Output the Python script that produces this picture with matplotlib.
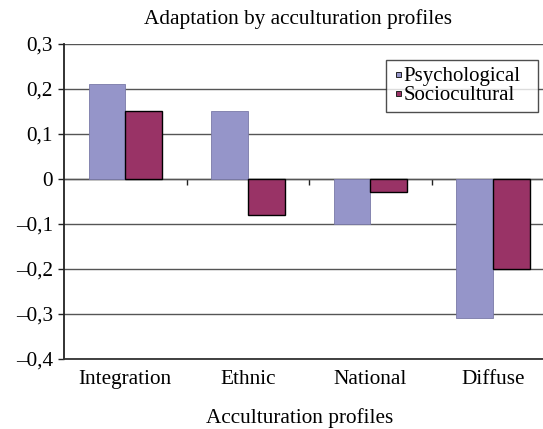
import numpy as np
import matplotlib.pyplot as plt
from matplotlib.lines import Line2D
from matplotlib.ticker import FixedLocator, FixedFormatter

# data
categories = ['Integration', 'Ethnic', 'National', 'Diffuse']
psychological = [0.21, 0.15, -0.10, -0.31]
sociocultural = [0.15, -0.08, -0.03, -0.20]
series_names = ['Psychological', 'Sociocultural']
y_ticks = [0.3, 0.2, 0.1, 0.0, -0.1, -0.2, -0.3, -0.4]
y_tick_labels = ['0,3', '0,2', '0,1', '0', '\u20130,1', '\u20130,2', '\u20130,3', '\u20130,4']

plt.rcParams['font.family'] = ['Liberation Serif', 'DejaVu Serif']
fs = 15.3
c_psy, c_soc = '#9595c9', '#993366'

fig = plt.figure(figsize=(5.43, 4.29), dpi=100)
W, H = 543, 429
# plot area runs past the right edge of the picture, as in the reference
ax = fig.add_axes([64 / W, 1 - 359 / H, 490 / W, 315 / H])

x = np.arange(len(categories))
bw = 0.30
ax.bar(x - bw / 2, psychological, bw, color=c_psy, edgecolor='#7a7aa8',
       linewidth=0.6, zorder=3)
ax.bar(x + bw / 2, sociocultural, bw, color=c_soc, edgecolor='black',
       linewidth=1.0, zorder=3)

ax.set_xlim(-0.5, 3.5)
ax.set_ylim(-0.4, 0.3)

# y axis
ax.yaxis.set_major_locator(FixedLocator(y_ticks))
ax.yaxis.set_major_formatter(FixedFormatter(y_tick_labels))
ax.tick_params(axis='y', direction='out', length=4, width=1, labelsize=fs,
               color='#222222', pad=4)
ax.yaxis.grid(True, color='#555555', linewidth=1.0, zorder=1)

# category labels at the bottom, no tick marks
ax.set_xticks(x)
ax.set_xticklabels(categories)
ax.tick_params(axis='x', length=0, labelsize=fs, pad=8)

for side in ['top', 'right']:
    ax.spines[side].set_visible(False)
ax.spines['left'].set_linewidth(1.3)
ax.spines['left'].set_color('#222222')
ax.spines['bottom'].set_linewidth(1.3)
ax.spines['bottom'].set_color('#333333')

# category axis crosses at zero, with ticks between categories
zero_frac = (0 - (-0.4)) / 0.7
sec = ax.secondary_xaxis(zero_frac)
sec.set_xticks([0.5, 1.5, 2.5])
sec.set_xticklabels([])
sec.spines['bottom'].set_visible(False)
sec.spines['top'].set_color('#555555')
sec.spines['top'].set_linewidth(1.0)
sec.tick_params(axis='x', which='both', top=False, bottom=True,
                direction='out', length=4, width=1, color='#222222')

# small square keys, like the original
handles = [Line2D([], [], ls='', marker='s', markersize=3.6, markerfacecolor=c,
                  markeredgecolor='#222222', markeredgewidth=0.7)
           for c in (c_psy, c_soc)]
x0, x1, y0, y1 = 386, 538, 60, 112
leg = ax.legend(handles, series_names, loc='upper left', mode='expand',
                bbox_to_anchor=(x0 / W, 1 - y1 / H, (x1 - x0) / W, (y1 - y0) / H),
                bbox_transform=fig.transFigure, borderaxespad=0, fontsize=15,
                frameon=True, fancybox=False, handlelength=0.55,
                handletextpad=0.0, borderpad=0.3, labelspacing=0.0)
leg.get_frame().set_edgecolor('#222222')
leg.get_frame().set_linewidth(1.0)
leg.set_zorder(5)

fig.text(298 / W, 1 - 19 / H, 'Adaptation by acculturation profiles',
         ha='center', va='center', fontsize=fs)
fig.text(300 / W, 1 - 418 / H, 'Acculturation profiles',
         ha='center', va='center', fontsize=fs)

fig.savefig('out.png', dpi=100)
